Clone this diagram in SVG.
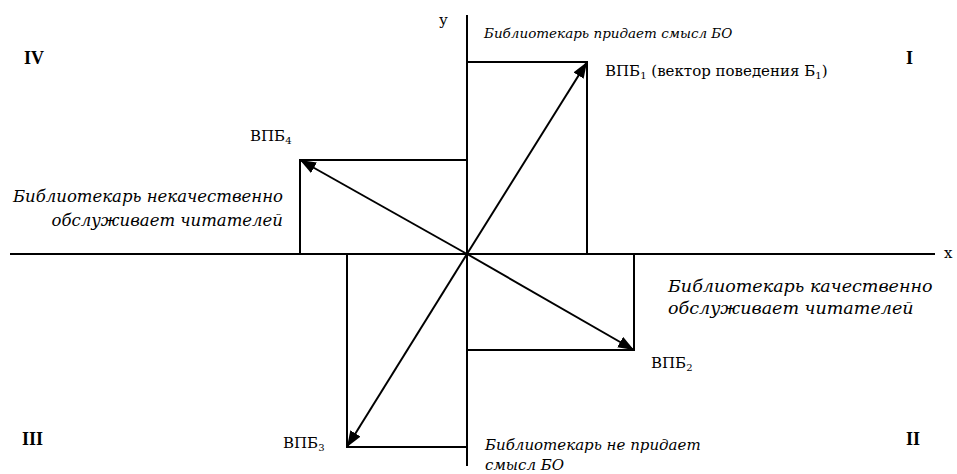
<svg xmlns="http://www.w3.org/2000/svg" width="957" height="474" viewBox="0 0 957 474">
<style>
.ln{stroke:#000;stroke-width:2;fill:none}
.ar{stroke:#000;stroke-width:2;fill:none;marker-end:url(#ah)}
.t{font-family:"DejaVu Serif","Liberation Serif",serif;font-size:15px;fill:#000}
.r{font-family:"Liberation Serif","DejaVu Serif",serif;font-size:18px;font-weight:bold;fill:#000}
.i{font-style:italic}
.s13{font-size:13.5px}
.s15{font-size:15px}
.s17{font-size:16.5px}
.s18{font-size:17.5px}
</style>
<defs>
<marker id="ah" markerUnits="userSpaceOnUse" markerWidth="18" markerHeight="14" refX="16" refY="6" orient="auto">
<path d="M0,0 L16,6 L0,12 Z" fill="#000"/>
</marker>
</defs>
<g id="axes">
<line class="ln" x1="10" y1="254" x2="935" y2="254"/>
<line class="ln" x1="467" y1="15" x2="467" y2="466"/>
<text class="t" x="439" y="25">у</text>
<text class="t" x="944" y="258">x</text>
</g>
<g id="connectors">
<path class="ln" d="M467,62 H587 V254"/>
<path class="ln" d="M467,160 H300 V254"/>
<path class="ln" d="M467,350 H634 V254"/>
<path class="ln" d="M467,447 H347 V254"/>
<line class="ar" x1="467" y1="254" x2="587" y2="62"/>
<line class="ar" x1="467" y1="254" x2="300" y2="160"/>
<line class="ar" x1="467" y1="254" x2="634" y2="350"/>
<line class="ar" x1="467" y1="254" x2="347" y2="447"/>
</g>
<g id="q1">
<text class="r" x="906" y="64">I</text>
<text class="t i s13" x="484" y="38">Библиотекарь придает смысл БО</text>
<text class="t" x="605" y="76">ВПБ<tspan font-size="10" dy="3">1</tspan><tspan dy="-3"> (вектор поведения Б</tspan><tspan font-size="10" dy="3">1</tspan><tspan dy="-3">)</tspan></text>
</g>
<g id="q4">
<text class="r" x="24" y="64">IV</text>
<text class="t" x="250" y="141">ВПБ<tspan font-size="10" dy="3">4</tspan></text>
<text class="t i s17" x="283" y="202" text-anchor="end">Библиотекарь некачественно</text>
<text class="t i s17" x="283" y="226" text-anchor="end">обслуживает читателей</text>
</g>
<g id="q2">
<text class="r" x="906" y="445">II</text>
<text class="t" x="651" y="368">ВПБ<tspan font-size="10" dy="3">2</tspan></text>
<text class="t i s18" x="668" y="292">Библиотекарь качественно</text>
<text class="t i s18" x="668" y="314">обслуживает читателей</text>
</g>
<g id="q3">
<text class="r" x="22" y="445">III</text>
<text class="t" x="283" y="448">ВПБ<tspan font-size="10" dy="3">3</tspan></text>
<text class="t i s15" x="485" y="450">Библиотекарь не придает</text>
<text class="t i s15" x="485" y="470">смысл БО</text>
</g>
</svg>
